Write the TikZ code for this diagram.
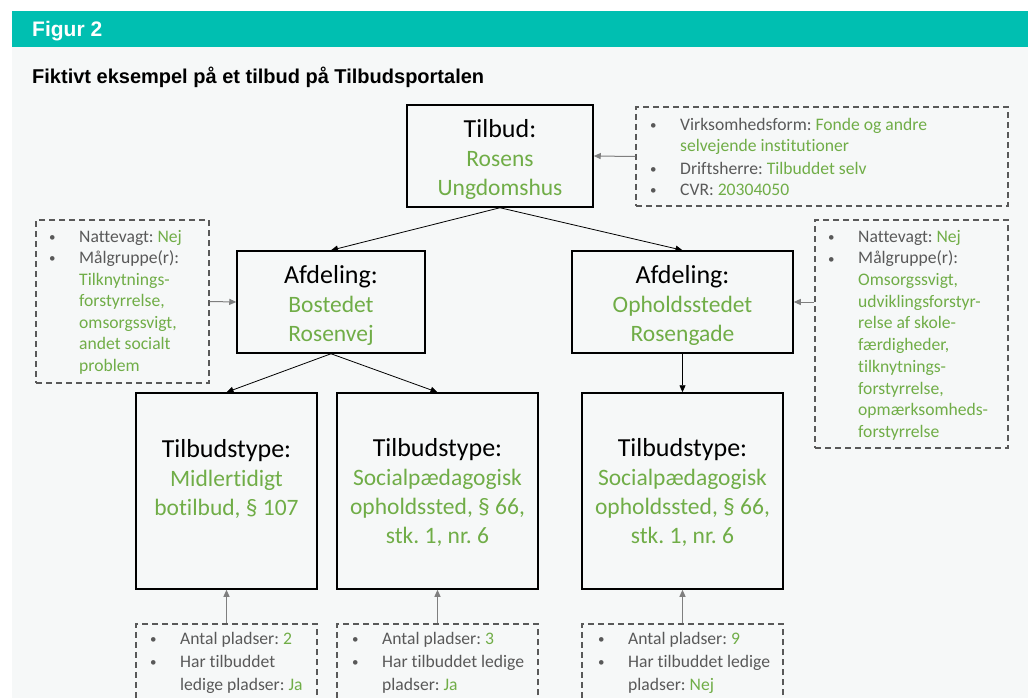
\documentclass[tikz,border=0pt]{standalone}
\usepackage{fontspec}
\setmainfont{Carlito}[Ligatures={NoCommon}]
\newfontfamily\arialfont{Liberation Sans}
\usetikzlibrary{arrows.meta,calc}
\frenchspacing
\definecolor{headteal}{HTML}{00BFB1}
\definecolor{bggray}{HTML}{F6F8F8}
\definecolor{grn}{HTML}{70AD47}
\definecolor{txtgray}{HTML}{595959}
\definecolor{dashgray}{HTML}{595959}
\definecolor{arrgray}{HTML}{7F7F7F}
\newcommand\hdx[1]{{\color{black}\fontsize{26}{29}\selectfont #1}}
\newcommand\grx[1]{\textcolor{grn}{#1}}
\newcommand\bulx{\makebox[31pt][l]{\hspace*{1pt}\raisebox{0.8pt}{\fontsize{13}{13}\selectfont •}}}
\newcommand\indx{\hspace*{31pt}}
\tikzset{
  mainbox/.style={draw=black, line width=1.5pt, inner sep=0pt},
  maintext/.style={align=center, inner sep=0pt, font=\fontsize{23.5}{29}\selectfont\frenchspacing, text=grn},
  infobox/.style={draw=dashgray, line width=1.4pt, dash pattern=on 6pt off 4pt, inner sep=0pt},
  infotext/.style={anchor=north west, inner sep=0pt, align=left, text=txtgray,
    font=\fontsize{17.6}{21.5}\selectfont},
  link/.style={-{Triangle[length=7pt,width=6pt]}, line width=0.8pt, black},
  glink/.style={-{Triangle[length=7pt,width=6pt]}, line width=1pt, arrgray},
}
\begin{document}
\begin{tikzpicture}[x=1pt,y=-1pt]
\useasboundingbox (0,0) rectangle (1028,698);
\clip (0,0) rectangle (1028,698);
\fill[white] (0,0) rectangle (1028,698);
\fill[bggray] (12,47) rectangle (1028,698);
\fill[headteal] (12,11) rectangle (1028,47);
\node[anchor=base west, inner sep=0pt, text=white, font=\arialfont\bfseries\fontsize{21}{24}\selectfont] (fig) at (32,37) {Figur 2};
\node[anchor=base west, inner sep=0pt, font=\arialfont\bfseries\fontsize{20}{24}\selectfont] (title) at (32,84) {Fiktivt eksempel på et tilbud på Tilbudsportalen};

% main boxes
\node[mainbox, minimum width=186pt, minimum height=102pt] (tilbud) at (500,156) {};
\node[mainbox, minimum width=188pt, minimum height=102pt] (afdL) at (331,302) {};
\node[mainbox, minimum width=221pt, minimum height=102pt] (afdR) at (682.5,302) {};
\node[mainbox, minimum width=181pt, minimum height=196pt] (tt1) at (226.5,491) {};
\node[mainbox, minimum width=201pt, minimum height=196pt] (tt2) at (437.5,491) {};
\node[mainbox, minimum width=201pt, minimum height=196pt] (tt3) at (682.5,491) {};

\node[maintext] (tilbudT) at ($(tilbud.center)+(0,3)$) {\hdx{Tilbud:}\\Rosens\\Ungdomshus};
\node[maintext] (afdLT) at ($(afdL.center)+(0,3)$) {\hdx{Afdeling:}\\Bostedet\\Rosenvej};
\node[maintext] (afdRT) at ($(afdR.center)+(0,3)$) {\hdx{Afdeling:}\\Opholdsstedet\\Rosengade};
\node[maintext] (tt1T) at ($(tt1.center)+(0,-12)$) {\hdx{Tilbudstype:}\\Midlertidigt\\botilbud, § 107};
\node[maintext] (tt2T) at ($(tt2.center)+(0,1)$) {\hdx{Tilbudstype:}\\Socialpædagogisk\\opholdssted, § 66,\\stk. 1, nr. 6};
\node[maintext] (tt3T) at ($(tt3.center)+(0,1)$) {\hdx{Tilbudstype:}\\Socialpædagogisk\\opholdssted, § 66,\\stk. 1, nr. 6};

% info boxes
\node[infobox, minimum width=372pt, minimum height=99pt] (dTop) at (822,156.5) {};
\node[infobox, minimum width=173pt, minimum height=163pt] (dL) at (122.5,301.5) {};
\node[infobox, minimum width=193pt, minimum height=228pt] (dR) at (911.5,334) {};
\node[infobox, minimum width=181pt, minimum height=110pt] (dB1) at (226.5,679) {};
\node[infobox, minimum width=201pt, minimum height=110pt] (dB2) at (437.5,679) {};
\node[infobox, minimum width=201pt, minimum height=110pt] (dB3) at (682.5,679) {};

\node[infotext, font=\fontsize{17.6}{21}\selectfont] (tTop) at (649,115.8) {\strut\bulx Virksomhedsform: \grx{Fonde og andre}\\
\indx\grx{selvejende institutioner}\\[2pt]
\bulx Driftsherre: \grx{Tilbuddet selv}\\
\bulx CVR: \grx{20304050}};
\node[infotext] (tL) at (48,227) {\strut\bulx Nattevagt: \grx{Nej}\\
\bulx Målgruppe(r):\\
\indx\grx{Tilknytnings-}\\
\indx\grx{forstyrrelse,}\\
\indx\grx{omsorgssvigt,}\\
\indx\grx{andet socialt}\\
\indx\grx{problem}};
\node[infotext, font=\fontsize{17.6}{21.7}\selectfont] (tR) at (827,226.8) {\strut\bulx Nattevagt: \grx{Nej}\\
\bulx Målgruppe(r):\\
\indx\grx{Omsorgssvigt,}\\
\indx\grx{udviklingsforstyr-}\\
\indx\grx{relse af skole-}\\
\indx\grx{færdigheder,}\\
\indx\grx{tilknytnings-}\\
\indx\grx{forstyrrelse,}\\
\indx\grx{opmærksomheds-}\\
\indx\grx{forstyrrelse}};
\node[infotext, font=\fontsize{17.6}{23}\selectfont] (tB1) at (149,628) {\strut\bulx Antal pladser: \grx{2}\\
\bulx Har tilbuddet\\
\indx ledige pladser: \grx{Ja}};
\node[infotext, font=\fontsize{17.6}{23}\selectfont] (tB2) at (351,628) {\strut\bulx Antal pladser: \grx{3}\\
\bulx Har tilbuddet ledige\\
\indx pladser: \grx{Ja}};
\node[infotext, font=\fontsize{17.6}{23}\selectfont] (tB3) at (597,628) {\strut\bulx Antal pladser: \grx{9}\\
\bulx Har tilbuddet ledige\\
\indx pladser: \grx{Nej}};

% connectors
\draw[link] (tilbud.south) -- (afdL.north);
\draw[link] (tilbud.south) -- (afdR.north);
\draw[link] (afdL.south) -- (tt1.north);
\draw[link] (afdL.south) -- (tt2.north);
\draw[link] (afdR.south) -- (tt3.north);
\draw[glink] (dTop.west) -- (tilbud.east);
\draw[glink] (dL.east) -- (afdL.west);
\draw[glink] (dR.west |- afdR.east) -- (afdR.east);
\draw[glink] (dB1.north) -- (tt1.south);
\draw[glink] (dB2.north) -- (tt2.south);
\draw[glink] (dB3.north) -- (tt3.south);
\end{tikzpicture}
\end{document}
